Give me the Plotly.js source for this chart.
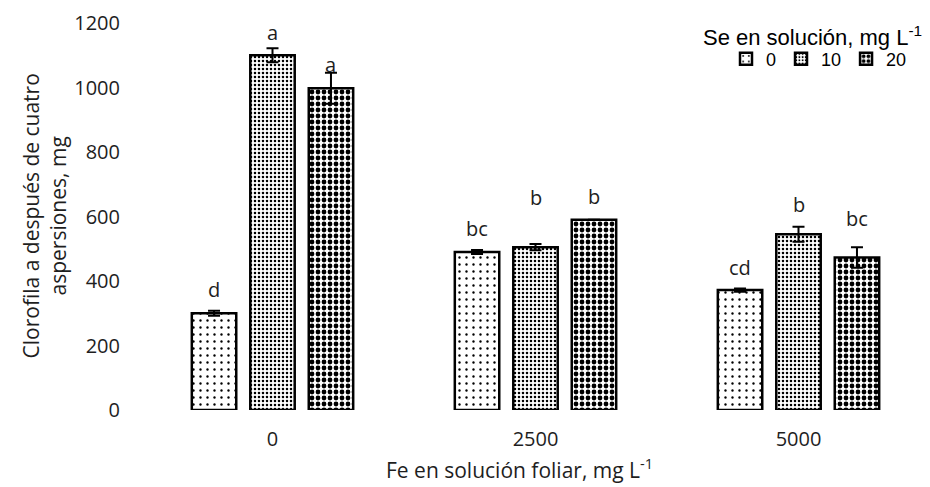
<!DOCTYPE html>
<html>
<head>
<meta charset="utf-8">
<script src="https://cdn.plot.ly/plotly-3.0.1.min.js"></script>
<style>
  html, body { margin: 0; padding: 0; background: #fff; }
  #chart { width: 930px; height: 487px; }
</style>
</head>
<body>
<div id="chart"></div>
<script>
// Fe doses (foliar), mg L-1
const feLevels = ["0", "2500", "5000"];

// Se in solution, mg L-1 (one series each)
const seLevels = ["0", "10", "20"];

// Chlorophyll a after four sprays, mg
const se0 = [300, 490, 372];
const se10 = [1100, 505, 545];
const se20 = [998, 590, 473];

// Standard errors
const se0Err = [8, 6, 5];
const se10Err = [22, 10, 23];
const se20Err = [48, 0, 32];

// Mean separation letters
const se0Letters = ["d", "bc", "cd"];
const se10Letters = ["a", "b", "b"];
const se20Letters = ["a", "b", "bc"];

const groupPos = feLevels.map((_, i) => i);

const series = [
  { name: seLevels[0], y: se0, err: se0Err, letters: se0Letters,
    pattern: { shape: ".", size: 7, solidity: 0.09 }, shifts: [21, 22, 21] },
  { name: seLevels[1], y: se10, err: se10Err, letters: se10Letters,
    pattern: { shape: ".", size: 4, solidity: 0.32 }, shifts: [16, 46, 22] },
  { name: seLevels[2], y: se20, err: se20Err, letters: se20Letters,
    pattern: { shape: ".", size: 6, solidity: 0.5 }, shifts: [8, 23, 29] }
];

const traces = series.map(s => ({
  type: "bar",
  name: s.name,
  x: groupPos,
  y: s.y,
  marker: {
    color: "#ffffff",
    line: { color: "#000000", width: 2.5 },
    pattern: Object.assign({ fgcolor: "#000000", bgcolor: "#ffffff", fillmode: "replace" }, s.pattern)
  },
  error_y: { type: "data", array: s.err, visible: true, color: "#000000", thickness: 2, width: 6 },
  hoverinfo: "skip"
}));

const textFont = { family: "'Open Sans', sans-serif", size: 20, color: "#1e1e1e" };
const legendFont = { family: "'Liberation Sans', Arial, sans-serif", size: 18, color: "#000" };

const bargap = 0.333;
const plotLeft = 141;
const plotWidth = 930 - plotLeft;
const slotPx = plotWidth / feLevels.length * (1 - bargap) / series.length;
const px2x = p => (p - plotLeft) / plotWidth;

// Letters above each bar, centred on the slot of its series within the group
const annotations = [];
series.forEach((s, si) => {
  groupPos.forEach((gx, gi) => {
    annotations.push({
      x: gx, y: s.y[gi] + s.err[gi], xref: "x", yref: "y",
      xshift: (si - 1) * slotPx,
      yshift: s.shifts[gi],
      text: s.letters[gi], showarrow: false,
      yanchor: "middle", xanchor: "center",
      font: textFont
    });
  });
});

annotations.push({
  text: "Clorofila a después de cuatro<br>aspersiones, mg",
  xref: "paper", yref: "paper", x: 0, y: 0.5, xshift: -97,
  xanchor: "center", yanchor: "middle", textangle: -90, showarrow: false,
  font: Object.assign({}, textFont, { size: 21 })
});
annotations.push({
  text: "Fe en solución foliar, mg L<sup>-1</sup>",
  xref: "paper", yref: "paper", x: px2x(519), y: 0, yshift: -58,
  xanchor: "center", yanchor: "middle", showarrow: false,
  font: Object.assign({}, textFont, { size: 21 })
});
annotations.push({
  text: "Se en solución, mg L<sup>-1</sup>",
  xref: "paper", yref: "paper", x: px2x(812), y: 1, yshift: -13,
  xanchor: "center", yanchor: "middle", showarrow: false,
  font: { family: legendFont.family, size: 22, color: "#000" }
});

const layout = {
  width: 930, height: 487,
  margin: { l: plotLeft, r: 0, t: 23, b: 77, pad: 0, autoexpand: false },
  paper_bgcolor: "#ffffff", plot_bgcolor: "#ffffff",
  barmode: "group",
  bargap: bargap,
  bargroupgap: 0.24,
  showlegend: true,
  legend: {
    orientation: "h",
    x: px2x(726), xanchor: "left", y: 0.907, yanchor: "middle",
    bgcolor: "rgba(0,0,0,0)",
    font: legendFont,
    itemwidth: 30,
    tracegroupgap: 0
  },
  xaxis: {
    range: [-0.5, 2.5],
    tickvals: groupPos, ticktext: feLevels,
    showline: false, showgrid: false, zeroline: false, ticks: "",
    tickfont: textFont,
    ticklabelstandoff: 15
  },
  yaxis: {
    range: [0, 1200], dtick: 200, tick0: 0,
    showline: false, showgrid: false, zeroline: false, ticks: "",
    tickfont: textFont,
    ticklabelstandoff: 20
  },
  annotations: annotations
};

Plotly.newPlot("chart", traces, layout, { staticPlot: true, displayModeBar: false });
</script>
</body>
</html>
